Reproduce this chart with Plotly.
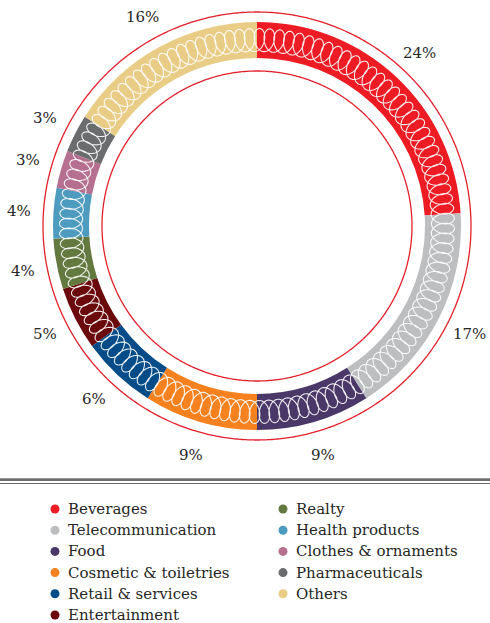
import numpy as np
import plotly.graph_objects as go

# ---- data -------------------------------------------------------------
categories = [
    "Beverages", "Telecommunication", "Food", "Cosmetic & toiletries",
    "Retail & services", "Entertainment", "Realty", "Health products",
    "Clothes & ornaments", "Pharmaceuticals", "Others",
]
shares = [24, 17, 9, 9, 6, 5, 4, 4, 3, 3, 16]
colors = [
    "#ED1C24", "#BCBEC0", "#4A3868", "#F6821F", "#034C88", "#6A0A0C",
    "#64793F", "#4E9BC0", "#B5708F", "#6B6C6E", "#E9CD87",
]
share_labels = [f"{v}%" for v in shares]

# ---- geometry (radial units == pixels) ---------------------------------
W, H = 490, 623
CX, CY = 257, 226          # ring centre (px from top-left)
R_PLOT = 220               # polar plotting radius in px
R_IN, R_OUT = 168, 204     # coloured band
R_RING_IN, R_RING_OUT = 155, 214
R_LABEL = 238
N_LOOPS = 120
FONT = "DejaVu Serif"
TEXT_COL = "#262626"

vals = np.array(shares, dtype=float)
frac = vals / vals.sum()
starts = np.concatenate([[0], np.cumsum(frac)[:-1]]) * 360
widths = frac * 360
centers = starts + widths / 2

fig = go.Figure()

# coloured segments
fig.add_trace(go.Barpolar(
    r=[R_OUT - R_IN] * len(vals), base=[R_IN] * len(vals),
    theta=centers, width=widths,
    marker=dict(color=colors, line=dict(width=0)),
    showlegend=False, hoverinfo="skip",
))

# white coil running round the band
rm = (R_IN + R_OUT) / 2
pitch = 2 * np.pi * rm / N_LOOPS
t = np.linspace(0, 2 * np.pi * N_LOOPS, N_LOOPS * 64 + 1)
s = pitch * t / (2 * np.pi) + 7.5 * np.cos(t)
coil_theta = np.degrees(s / rm)
coil_r = rm + 11.5 * np.sin(t)
fig.add_trace(go.Scatterpolar(
    r=coil_r, theta=coil_theta, mode="lines",
    line=dict(color="rgba(255,255,255,0.9)", width=1.1),
    showlegend=False, hoverinfo="skip",
))

# thin red guide circles
circ = np.linspace(0, 360, 721)
for rr in (R_RING_IN, R_RING_OUT):
    fig.add_trace(go.Scatterpolar(
        r=[rr] * len(circ), theta=circ, mode="lines",
        line=dict(color="#E3202B", width=1.3),
        showlegend=False, hoverinfo="skip",
    ))

# percentage labels, placed at each slice's mid-angle outside the rings
ang = np.radians(centers)
for a, lab in zip(ang, share_labels):
    fig.add_annotation(
        x=CX + R_LABEL * np.sin(a), y=CY - R_LABEL * np.cos(a),
        xref="x", yref="y", text=lab, showarrow=False,
        xanchor="center", yanchor="middle",
        font=dict(family=FONT, size=15, color=TEXT_COL),
    )

# ---- legend (two columns) ----------------------------------------------
col_split = 6
row0, row_gap = 509, 21.2
leg_x, leg_y, leg_c = [], [], []
for i, (name, col) in enumerate(zip(categories, colors)):
    c, r = divmod(i, col_split)
    x = 55 if c == 0 else 283
    y = row0 + r * row_gap
    leg_x.append(x)
    leg_y.append(y)
    leg_c.append(col)
    fig.add_annotation(
        x=x + 11, y=y, xref="x", yref="y", text=name, showarrow=False,
        xanchor="left", yanchor="middle",
        font=dict(family=FONT, size=15, color=TEXT_COL),
    )
fig.add_trace(go.Scatter(
    x=leg_x, y=leg_y, mode="markers",
    marker=dict(size=9, color=leg_c, line=dict(width=0)),
    showlegend=False, hoverinfo="skip",
))

# double rule above the legend
fig.add_shape(type="line", xref="x", yref="y", x0=0, x1=W, y0=479.6, y1=479.6,
              line=dict(color="#707070", width=2.6))
fig.add_shape(type="line", xref="x", yref="y", x0=0, x1=W, y0=483.5, y1=483.5,
              line=dict(color="#6a6a6a", width=1))

fig.update_layout(
    width=W, height=H,
    margin=dict(l=0, r=0, t=0, b=0, pad=0),
    paper_bgcolor="white", plot_bgcolor="rgba(0,0,0,0)",
    showlegend=False,
    xaxis=dict(range=[0, W], visible=False, domain=[0, 1], fixedrange=True),
    yaxis=dict(range=[H, 0], visible=False, domain=[0, 1], fixedrange=True),
    polar=dict(
        domain=dict(
            x=[(CX - R_PLOT) / W, (CX + R_PLOT) / W],
            y=[(H - CY - R_PLOT) / H, (H - CY + R_PLOT) / H],
        ),
        bgcolor="rgba(0,0,0,0)",
        hole=0,
        radialaxis=dict(range=[0, R_PLOT], visible=False),
        angularaxis=dict(rotation=90, direction="clockwise", visible=False),
    ),
)

fig.write_html("out.html")
